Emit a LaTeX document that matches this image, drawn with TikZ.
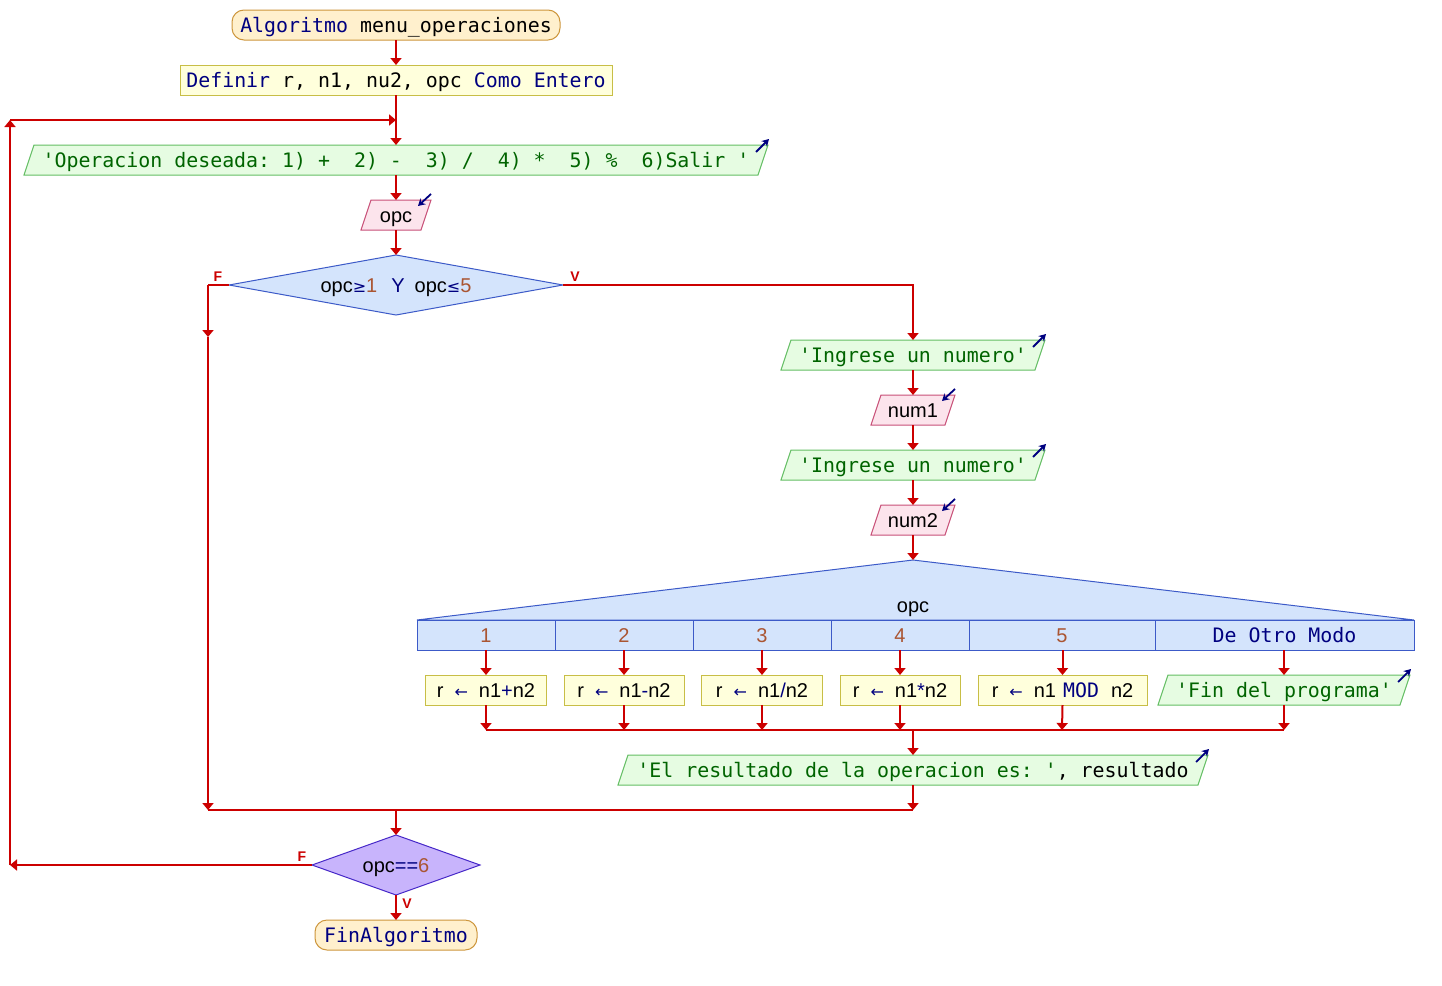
\documentclass[tikz,border=0pt]{standalone}
\usepackage{fontspec}
\setmainfont{Liberation Sans}
\setmonofont{DejaVu Sans Mono}
\newfontfamily\symf{DejaVu Sans}
\usetikzlibrary{arrows.meta,backgrounds}
\definecolor{cred}{RGB}{204,0,0}
\definecolor{dblue}{RGB}{0,0,128}
\definecolor{numbrown}{RGB}{170,85,50}
\definecolor{outtext}{RGB}{0,100,0}
\definecolor{outfill}{RGB}{230,252,226}
\definecolor{outdraw}{RGB}{100,190,100}
\definecolor{infill}{RGB}{252,228,236}
\definecolor{indraw}{RGB}{200,80,120}
\definecolor{procfill}{RGB}{255,255,220}
\definecolor{procdraw}{RGB}{200,190,70}
\definecolor{termfill}{RGB}{255,240,205}
\definecolor{termdraw}{RGB}{205,150,60}
\definecolor{decfill}{RGB}{212,228,252}
\definecolor{decdraw}{RGB}{60,90,200}
\definecolor{dectwofill}{RGB}{200,180,252}
\definecolor{dectwodraw}{RGB}{70,40,200}
\newcommand\drawpara[3]{\filldraw[fill=#2,draw=#3,line width=1pt] ([xshift=10pt]#1.north west) -- (#1.north east) -- ([xshift=-10pt]#1.south east) -- (#1.south west) -- cycle;}
\newcommand\drawdiamond[3]{\filldraw[fill=#2,draw=#3,line width=1pt] (#1.west) -- (#1.north) -- (#1.east) -- (#1.south) -- cycle;}
\newcommand\sym[1]{{\symf\fontsize{16}{16}\selectfont #1}}
\begin{document}
\begin{tikzpicture}[x=1pt,y=-1pt,
  every node/.style={inner sep=0pt,outer sep=0pt,text height=14.5pt,text depth=0pt,minimum height=30pt},
  mono/.style={font=\ttfamily\fontsize{19.9}{20}\selectfont},
  sans/.style={font=\fontsize{20}{20}\selectfont},
  term/.style={draw=termdraw,fill=termfill,line width=1pt,rounded corners=12pt},
  proc/.style={draw=procdraw,fill=procfill,line width=1pt},
  cell/.style={draw=decdraw,fill=decfill,line width=1pt},
  conn/.style={draw=cred,line width=2pt},
  arr/.style={conn,-{Triangle[length=7pt,width=11pt]}},
  outmark/.style={draw=dblue,line width=1.8pt,-{Stealth[length=7pt,width=8pt]}},
  inmark/.style={draw=dblue,line width=1.8pt,-{Stealth[length=7pt,width=8pt]}},
  flabel/.style={text=cred,font=\bfseries\fontsize{14}{14}\selectfont,text height=10pt,minimum height=0pt}]
\useasboundingbox (0,0) rectangle (1442,985);

% main column
\node[term,mono,minimum width=328pt] (start) at (396,25) {\textcolor{dblue}{Algoritmo} menu\_operaciones};
\node[proc,mono,minimum width=432pt] (def) at (396,80) {\textcolor{dblue}{Definir} r, n1, nu2, opc \textcolor{dblue}{Como Entero}};
\node[mono,minimum width=744pt,text=outtext] (out1) at (396,160) {'Operacion deseada: 1) +~~2) -~~3) /~~4) *~~5) \%~~6)Salir '};
\node[sans,minimum width=70pt] (in1) at (396,215) {opc};
\node[sans,minimum width=334pt,minimum height=60pt] (dec1) at (396,285) {opc\sym{\textcolor{dblue}{≥}}\textcolor{numbrown}{1}\hspace{14pt}\textcolor{dblue}{Y}\hspace{10pt}opc\sym{\textcolor{dblue}{≤}}\textcolor{numbrown}{5}};

% right column
\node[mono,minimum width=264pt,text=outtext] (in2) at (913,355) {'Ingrese un numero'};
\node[sans,minimum width=84pt] (num1) at (913,410) {num1};
\node[mono,minimum width=264pt,text=outtext] (in3) at (913,465) {'Ingrese un numero'};
\node[sans,minimum width=84pt] (num2) at (913,520) {num2};
\coordinate (capex) at (913,560);
\node[sans] (caselbl) at (913,605) {opc};
\node[cell,sans,minimum width=138pt] (c1) at (486,635) {\textcolor{numbrown}{1}};
\node[cell,sans,minimum width=138pt] (c2) at (624,635) {\textcolor{numbrown}{2}};
\node[cell,sans,minimum width=138pt] (c3) at (762,635) {\textcolor{numbrown}{3}};
\node[cell,sans,minimum width=138pt] (c4) at (900,635) {\textcolor{numbrown}{4}};
\node[cell,sans,minimum width=186pt] (c5) at (1062,635) {\textcolor{numbrown}{5}};
\node[cell,mono,minimum width=259pt,text=dblue] (c6) at (1284.5,635) {De Otro Modo};

\node[proc,sans,minimum width=121pt] (a1) at (486,690) {r\hspace{11pt}\sym{\textcolor{dblue}{←}}\hspace{11pt}n1\textcolor{dblue}{+}n2};
\node[proc,sans,minimum width=120pt] (a2) at (624,690) {r\hspace{11pt}\sym{\textcolor{dblue}{←}}\hspace{11pt}n1\textcolor{dblue}{-}n2};
\node[proc,sans,minimum width=121pt] (a3) at (762,690) {r\hspace{11pt}\sym{\textcolor{dblue}{←}}\hspace{11pt}n1\textcolor{dblue}{/}n2};
\node[proc,sans,minimum width=120pt] (a4) at (900,690) {r\hspace{11pt}\sym{\textcolor{dblue}{←}}\hspace{11pt}n1\textcolor{dblue}{*}n2};
\node[proc,sans,minimum width=169pt] (a5) at (1062.5,690) {r\hspace{11pt}\sym{\textcolor{dblue}{←}}\hspace{11pt}n1\hspace{7pt}{\ttfamily\fontsize{19.9}{20}\selectfont\textcolor{dblue}{MOD}}\hspace{12pt}n2};
\node[mono,minimum width=252pt,text=outtext] (o6) at (1284,690) {'Fin del programa'};

\node[mono,minimum width=590pt,text=outtext] (res) at (913,770) {'El resultado de la operacion es: '\textcolor{black}{, resultado}};

\node[sans,minimum width=168pt,minimum height=60pt] (dec2) at (396,865) {opc\textcolor{dblue}{==}\textcolor{numbrown}{6}};
\node[term,mono,minimum width=162pt] (end) at (396,935) {\textcolor{dblue}{FinAlgoritmo}};

% labels
\node[flabel] (f1) at (218,276) {F};
\node[flabel] (v1) at (575,276) {V};
\node[flabel] (f2) at (302,856) {F};
\node[flabel] (v2) at (407,903) {V};

% shapes on background
\begin{pgfonlayer}{background}
\fill[white] (0,0) rectangle (1442,985);
\drawpara{out1}{outfill}{outdraw}
\drawpara{in1}{infill}{indraw}
\drawdiamond{dec1}{decfill}{decdraw}
\drawpara{in2}{outfill}{outdraw}
\drawpara{num1}{infill}{indraw}
\drawpara{in3}{outfill}{outdraw}
\drawpara{num2}{infill}{indraw}
\filldraw[fill=decfill,draw=decdraw,line width=1pt] (c1.north west) -- (capex) -- (c6.north east) -- cycle;
\drawpara{o6}{outfill}{outdraw}
\drawpara{res}{outfill}{outdraw}
\drawdiamond{dec2}{dectwofill}{dectwodraw}
\end{pgfonlayer}

% i/o markers
\foreach \n in {out1,in2,in3,o6,res}
  \draw[outmark] ([shift={(-12,7)}]\n.north east) -- ([shift={(1,-6)}]\n.north east);
\foreach \n in {in1,num1,num2}
  \draw[inmark] ([shift={(0,-6)}]\n.north east) -- ([shift={(-13,6)}]\n.north east);

% coordinates
\coordinate (l1) at (10,865);
\coordinate (l2) at (10,120);
\coordinate (l3) at (396,120);
\coordinate (fa) at (208,285);
\coordinate (fb) at (208,337);
\coordinate (fc) at (208,810);
\coordinate (j1) at (396,810);
\coordinate (j2) at (913,810);
\coordinate (m1) at (486,730);
\coordinate (m2) at (624,730);
\coordinate (m3) at (762,730);
\coordinate (m4) at (900,730);
\coordinate (m5) at (1062,730);
\coordinate (m6) at (1284,730);
\coordinate (mc) at (913,730);

% connectors
\draw[arr] (start.south) -- (def.north);
\draw[arr] (def.south) -- (out1.north);
\draw[arr] (out1.south) -- (in1.north);
\draw[arr] (in1.south) -- (dec1.north);
\draw[conn] (dec1.west) -- (fa);
\draw[arr] (fa) -- (fb);
\draw[arr] (fb) -- (fc);
\draw[arr] (dec1.east) -| (in2.north);
\draw[arr] (in2.south) -- (num1.north);
\draw[arr] (num1.south) -- (in3.north);
\draw[arr] (in3.south) -- (num2.north);
\draw[arr] (num2.south) -- (capex);
\draw[arr] (c1.south) -- (a1.north);
\draw[arr] (c2.south) -- (a2.north);
\draw[arr] (c3.south) -- (a3.north);
\draw[arr] (c4.south) -- (a4.north);
\draw[arr] (c5.south -| a5.north) -- (a5.north);
\draw[arr] (c6.south -| o6.north) -- (o6.north);
\draw[conn] (m1) -- (m6);
\draw[arr] (a1.south) -- (m1);
\draw[arr] (a2.south) -- (m2);
\draw[arr] (a3.south) -- (m3);
\draw[arr] (a4.south) -- (m4);
\draw[arr] (a5.south) -- (m5);
\draw[arr] (o6.south) -- (m6);
\draw[arr] (mc) -- (res.north);
\draw[conn] (fc) -- (j2);
\draw[arr] (res.south) -- (j2);
\draw[arr] (j1) -- (dec2.north);
\draw[arr] (dec2.south) -- (end.north);
\draw[arr] (dec2.west) -- (l1);
\draw[arr] (l1) -- (l2);
\draw[arr] (l2) -- (l3);
\end{tikzpicture}
\end{document}
